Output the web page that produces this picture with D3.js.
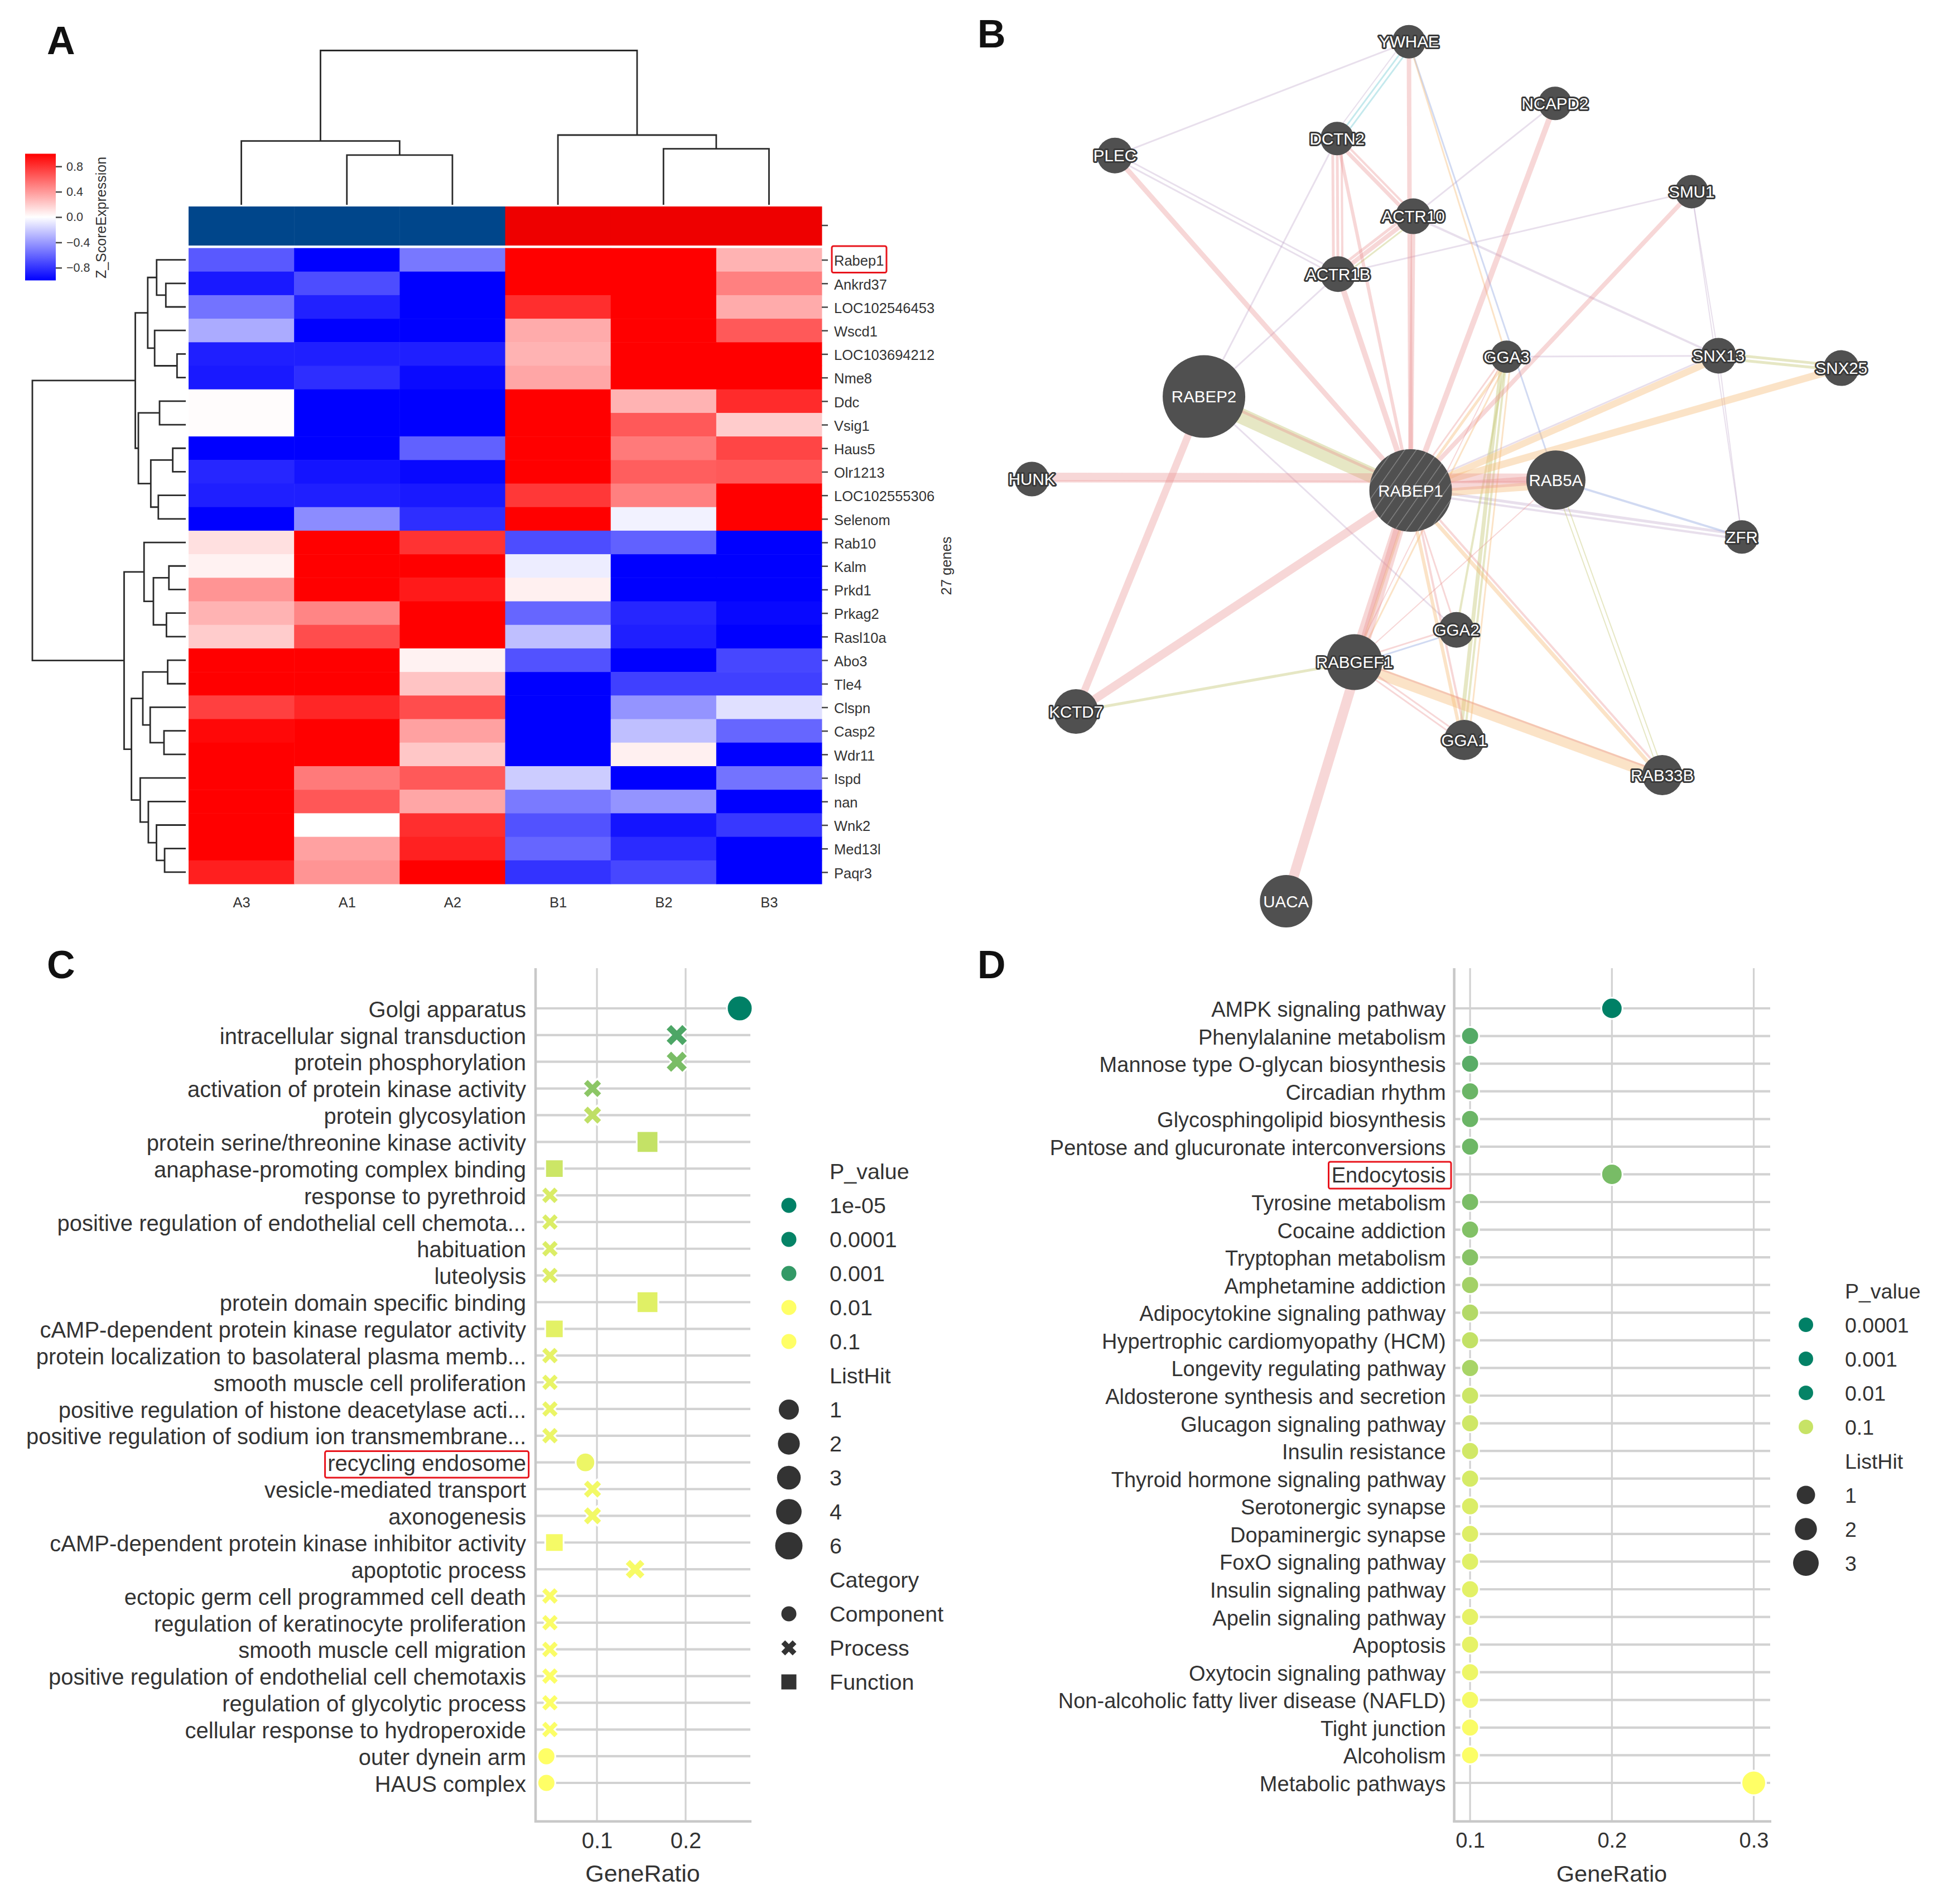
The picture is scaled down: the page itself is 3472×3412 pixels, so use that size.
<!DOCTYPE html>
<html><head><meta charset="utf-8">
<script src="https://cdnjs.cloudflare.com/ajax/libs/d3/7.8.5/d3.min.js"></script>
<style>html,body{margin:0;padding:0;background:#fff}svg{display:block}text{font-family:"Liberation Sans",Arial,sans-serif}</style>
</head><body><svg id="c" width="3472" height="3412" viewBox="0 0 3472 3412"></svg>
<script>
// ---------- Panel A data ----------
const sampleNames = ["A3","A1","A2","B1","B2","B3"];
const sampleGroupColors = ["#00468b","#00468b","#00468b","#ee0000","#ee0000","#ee0000"];
const geneNames = ["Rabep1","Ankrd37","LOC102546453","Wscd1","LOC103694212","Nme8","Ddc","Vsig1","Haus5","Olr1213","LOC102555306","Selenom","Rab10","Kalm","Prkd1","Prkag2","Rasl10a","Abo3","Tle4","Clspn","Casp2","Wdr11","Ispd","nan","Wnk2","Med13l","Paqr3"];
const zScores = [
[-.65,-1,-.53,1,1,.3],[-.9,-.7,-1,1,1,.5],[-.55,-.87,-1,.82,1,.33],[-.33,-1,-1,.33,1,.65],
[-.88,-.88,-.88,.3,1,1],[-.9,-.82,-.96,.35,1,1],[.01,-1,-1,1,.3,.83],[.01,-1,-1,1,.65,.2],
[-1,-1,-.62,1,.52,.73],[-.85,-.92,-.97,1,.63,.65],[-.88,-.88,-.9,.78,.5,1],[-1,-.45,-.82,1,-.05,1],
[.12,1,.8,-.7,-.62,-1],[.05,1,1,-.07,-1,-1],[.42,1,.9,.06,-1,-1],[.3,.48,1,-.6,-.85,-.97],
[.2,.7,1,-.25,-.88,-1],[1,1,.05,-.68,-1,-.72],[1,1,.23,-1,-.75,-.75],[.75,.85,.7,-1,-.42,-.12],
[.97,1,.37,-1,-.25,-.6],[1,1,.22,-1,.06,-1],[1,.52,.65,-.2,-1,-.55],[1,.66,.35,-.52,-.42,-1],
[1,0,.82,-.68,-.92,-.78],[1,.37,.87,-.6,-.83,-1],[.88,.42,1,-.8,-.72,-1]];
const colorbarTicks = [-.8,-.4,0,.4,.8];
// dendrograms: [distance, left, right]; a number is a leaf index
const colTree = [1,[.414,0,[.322,1,2]],[.452,3,[.363,4,5]]];
const rowTree = [1,
 [.329,
  [.248,[.19,0,[.13,1,2]],[.203,3,[.057,4,5]]],
  [.309,[.171,6,7],[.228,[.085,8,9],[.179,10,11]]]],
 [.402,
  [.272,12,[.211,[.11,13,14],[.126,15,16]]],
  [.354,
   [.28,[.118,17,18],[.232,19,[.142,20,21]]],
   [.297,22,[.244,23,[.191,24,[.138,25,26]]]]]]];

// ---------- Panel B data ----------
const netNodes = ["YWHAE","NCAPD2","PLEC","DCTN2","ACTR10","SMU1","ACTR1B","GGA3","SNX13","SNX25","RABEP2","HUNK","RABEP1","RAB5A","ZFR","GGA2","RABGEF1","KCTD7","GGA1","RAB33B","UACA"];
const netLayoutX = [468,637,128,385,473,795,386,581,826,968,231,32,470,638,853,523,405,83,532,761,326];
const netLayoutY = [44,109,164,146,228,202,289,376,375,388,418,505,517,506,566,664,698,750,780,817,950];
const netScore = [30,30,32,30,32,30,32,29,32,32,74,31,74,53,30,32,50,40,36,36,47];
const edgesPhysical = [["PLEC","RABEP1",9],["DCTN2","RABEP1",6],["ACTR1B","RABEP1",10],["ACTR10","RABEP1",8],["YWHAE","RABEP1",8],["NCAPD2","RABEP1",10],["SMU1","RABEP1",8],["DCTN2","ACTR1B",5],["DCTN2","ACTR1B",5],["DCTN2","ACTR1B",4],["DCTN2","ACTR10",7],["DCTN2","ACTR10",4],["ACTR10","ACTR1B",8],["ACTR10","ACTR1B",5],["RABEP2","KCTD7",13],["RABEP2","RABEP1",5],["HUNK","RAB5A",15],["HUNK","RAB5A",4],["KCTD7","RABEP1",15],["UACA","RABEP1",18],["RABGEF1","RABEP1",14],["RABEP1","RAB5A",12],["RABEP1","RAB5A",4],["RABEP1","GGA1",4],["RABEP1","GGA2",3],["RABEP1","RAB33B",4],["RABGEF1","GGA2",3],["RABGEF1","GGA1",3],["RABGEF1","GGA1",3],["RABGEF1","RAB33B",3],["RAB5A","RABGEF1",2],["GGA3","RABGEF1",2],["GGA3","RABEP1",3]];
const edgesPredicted = [["SNX13","RABEP1",12],["SNX25","RABEP1",13],["RABGEF1","RAB33B",20],["RABEP1","RAB33B",7],["RABEP1","RABGEF1",5],["RABEP1","GGA3",5],["RABEP1","GGA1",6],["YWHAE","GGA3",3],["RABGEF1","GGA3",3],["RABEP1","RAB5A",14],["GGA3","GGA1",3]];
const edgesColocal = [["YWHAE","RAB5A",3],["RAB5A","ZFR",4],["RABGEF1","GGA2",3]];
const edgesPathway = [["YWHAE","DCTN2",3],["YWHAE","DCTN2",3]];
const edgesGenetic = [["RABEP2","RABEP1",28],["KCTD7","RABGEF1",5],["SNX13","SNX25",5],["SNX13","SNX25",5],["GGA3","GGA1",7],["GGA3","GGA1",4],["GGA3","GGA2",4],["RAB5A","RAB33B",2],["RAB5A","RAB33B",2],["ACTR10","ACTR1B",3]];
const edgesCoexpr = [["YWHAE","PLEC",3],["PLEC","ACTR1B",3],["PLEC","ACTR1B",3],["DCTN2","RABEP2",3],["ACTR1B","RABEP2",3],["ACTR10","SNX13",4],["ACTR1B","SMU1",3],["NCAPD2","ACTR10",3],["SMU1","SNX13",2],["SMU1","ZFR",2],["SNX13","ZFR",2],["GGA3","SNX13",3],["RABEP1","ZFR",5],["RABEP1","ZFR",4],["SNX13","RABEP1",3],["RABEP2","GGA2",3],["YWHAE","DCTN2",2]];

// ---------- Panel C data ----------
const termsC = ["Golgi apparatus","intracellular signal transduction","protein phosphorylation","activation of protein kinase activity","protein glycosylation","protein serine/threonine kinase activity","anaphase-promoting complex binding","response to pyrethroid","positive regulation of endothelial cell chemota...","habituation","luteolysis","protein domain specific binding","cAMP-dependent protein kinase regulator activity","protein localization to basolateral plasma memb...","smooth muscle cell proliferation","positive regulation of histone deacetylase acti...","positive regulation of sodium ion transmembrane...","recycling endosome","vesicle-mediated transport","axonogenesis","cAMP-dependent protein kinase inhibitor activity","apoptotic process","ectopic germ cell programmed cell death","regulation of keratinocyte proliferation","smooth muscle cell migration","positive regulation of endothelial cell chemotaxis","regulation of glycolytic process","cellular response to hydroperoxide","outer dynein arm","HAUS complex"];
const ratioC = [.261,.19,.19,.095,.095,.157,.052,.047,.047,.047,.047,.157,.052,.047,.047,.047,.047,.087,.095,.095,.052,.143,.047,.047,.047,.047,.047,.047,.043,.043];
const hitsC = [6,4,4,2,2,3,1,1,1,1,1,3,1,1,1,1,1,2,2,2,1,3,1,1,1,1,1,1,1,1];
const categoryC = ["C","P","P","P","P","F","F","P","P","P","P","F","F","P","P","P","P","C","P","P","F","P","P","P","P","P","P","P","C","C"];
const pShadeC = [0,.3,.48,.55,.75,.77,.8,.85,.86,.86,.87,.88,.89,.9,.91,.92,.92,.93,.95,.95,.96,.97,.98,.98,.98,.99,.99,.99,1,1];
const ticksC = [.1,.2];
const legendPC = [["1e-05",0],["0.0001",.02],["0.001",.2],["0.01",1],["0.1",1]];
const legendHitsC = ["1","2","3","4","6"];
const legendCats = [["Component","C"],["Process","P"],["Function","F"]];

// ---------- Panel D data ----------
const termsD = ["AMPK signaling pathway","Phenylalanine metabolism","Mannose type O-glycan biosynthesis","Circadian rhythm","Glycosphingolipid biosynthesis","Pentose and glucuronate interconversions","Endocytosis","Tyrosine metabolism","Cocaine addiction","Tryptophan metabolism","Amphetamine addiction","Adipocytokine signaling pathway","Hypertrophic cardiomyopathy (HCM)","Longevity regulating pathway","Aldosterone synthesis and secretion","Glucagon signaling pathway","Insulin resistance","Thyroid hormone signaling pathway","Serotonergic synapse","Dopaminergic synapse","FoxO signaling pathway","Insulin signaling pathway","Apelin signaling pathway","Apoptosis","Oxytocin signaling pathway","Non-alcoholic fatty liver disease (NAFLD)","Tight junction","Alcoholism","Metabolic pathways"];
const ratioD = [.2,.1,.1,.1,.1,.1,.2,.1,.1,.1,.1,.1,.1,.1,.1,.1,.1,.1,.1,.1,.1,.1,.1,.1,.1,.1,.1,.1,.3];
const hitsD = [2,1,1,1,1,1,2,1,1,1,1,1,1,1,1,1,1,1,1,1,1,1,1,1,1,1,1,1,3];
const pShadeD = [0,.33,.35,.42,.42,.43,.47,.48,.51,.53,.64,.7,.76,.66,.8,.81,.82,.84,.86,.87,.88,.89,.9,.9,.93,.96,.98,.99,1];
const ticksD = [.1,.2,.3];
const legendPD = [["0.0001",0],["0.001",.01],["0.01",.02],["0.1",.78]];
const legendHitsD = ["1","2","3"];

// ---------- Common ----------
const svg = d3.select("#c");
svg.append("rect").attr("width",3472).attr("height",3412).attr("fill","#fff");
const TXT = "#333";
const panelLetter = (t,x,y) => svg.append("text").attr("x",x).attr("y",y).text(t).attr("font-size",70).attr("font-weight","bold").attr("fill","#111");
panelLetter("A",84,97); panelLetter("B",1752,85); panelLetter("C",84,1753); panelLetter("D",1752,1753);
const redBox = (x,y,w,h) => svg.append("rect").attr("x",x).attr("y",y).attr("width",w).attr("height",h).attr("rx",3).attr("fill","none").attr("stroke","#e8141c").attr("stroke-width",3);

// ---------- Panel A ----------
const A = svg.append("g");
const hx = d3.scaleBand().domain(d3.range(sampleNames.length)).range([338,1473]);
const hy = d3.scaleBand().domain(d3.range(geneNames.length)).range([444.5,1584]);
const bwr = d3.scaleLinear().domain([-1,0,1]).range(["#0000ff","#ffffff","#ff0000"]);
A.selectAll("rect.g").data(sampleNames).join("rect").attr("class","g")
 .attr("x",(d,i)=>hx(i)).attr("y",370).attr("width",hx.bandwidth()+.5).attr("height",70).attr("fill",(d,i)=>sampleGroupColors[i]);
zScores.forEach((row,r)=>{
  A.selectAll("rect.c"+r).data(row).join("rect").attr("class","c"+r)
   .attr("x",(d,i)=>hx(i)).attr("y",hy(r)).attr("width",hx.bandwidth()+.5).attr("height",hy.bandwidth()+.5).attr("fill",d=>bwr(d));
});
const styleAxis = (g,fs)=>{g.select(".domain").remove();g.selectAll("text").attr("font-size",fs).attr("fill",TXT).attr("font-family",'"Liberation Sans",Arial,sans-serif');g.selectAll("line").attr("stroke","#444").attr("stroke-width",2.5);};
const rowAxis = d3.axisRight(d3.scalePoint().domain(geneNames).range([hy(0)+hy.bandwidth()/2,hy(26)+hy.bandwidth()/2])).tickSize(11).tickPadding(11);
A.append("g").attr("transform","translate(1473,0)").call(rowAxis).call(g=>{styleAxis(g,25.5);g.selectAll("text").attr("dy",".4em");});
A.append("line").attr("x1",1473).attr("x2",1484).attr("y1",404).attr("y2",404).attr("stroke","#444").attr("stroke-width",2.5);
const colAxis = d3.axisBottom(d3.scalePoint().domain(sampleNames).range([hx(0)+hx.bandwidth()/2,hx(5)+hx.bandwidth()/2])).tickSize(0).tickPadding(24);
A.append("g").attr("transform","translate(0,1584)").call(colAxis).call(g=>styleAxis(g,25.5));
A.append("text").attr("transform","translate(1705,1014) rotate(-90)").attr("text-anchor","middle").attr("font-size",25.5).attr("fill",TXT).text(geneNames.length+" genes");
redBox(1491,441,98,47.5);
// dendrograms
function dendro(tree, leafPos, distScale, horizontal){
  const segs=[];
  const walk=n=>{
    if(typeof n==="number") return {p:leafPos(n),d:0};
    const a=walk(n[1]),b=walk(n[2]);
    segs.push([[a.p,a.d],[a.p,n[0]],[b.p,n[0]],[b.p,b.d]]);
    return {p:(a.p+b.p)/2,d:n[0]};
  };
  walk(tree);
  const line=d3.line().x(q=>horizontal?distScale(q[1]):q[0]).y(q=>horizontal?q[0]:distScale(q[1]));
  A.append("g").selectAll("path").data(segs).join("path").attr("d",line).attr("fill","none").attr("stroke","#2a2a2a").attr("stroke-width",2.8);
}
dendro(colTree,i=>hx(i)+hx.bandwidth()/2,d3.scaleLinear([0,1],[367,90.5]),false);
dendro(rowTree,i=>hy(i)+hy.bandwidth()/2,d3.scaleLinear([0,1],[333,58]),true);
// colorbar
const cbY = d3.scaleLinear([-1,1],[502.5,275.5]);
const defs = svg.append("defs");
const grad = defs.append("linearGradient").attr("id","cbg").attr("x1",0).attr("x2",0).attr("y1",1).attr("y2",0);
[-1,-.5,0,.5,1].forEach(v=>grad.append("stop").attr("offset",(v+1)/2).attr("stop-color",bwr(v)));
A.append("rect").attr("x",45).attr("y",275.5).attr("width",55).attr("height",227).attr("fill","url(#cbg)");
A.append("g").attr("transform","translate(100,0)").call(d3.axisRight(cbY).tickValues(colorbarTicks).tickSize(11).tickPadding(8).tickFormat(d3.format(".1f"))).call(g=>styleAxis(g,21.5));
A.append("text").attr("transform","translate(190,390) rotate(-90)").attr("text-anchor","middle").attr("font-size",25).attr("fill",TXT).text("Z_ScoreExpression");

// ---------- Panel B ----------
const B = svg.append("g");
const nx = d3.scaleLinear([0,1000],[1800,3350]), ny = d3.scaleLinear([0,1000],[0,1700]);
const pos = Object.fromEntries(netNodes.map((n,i)=>[n,{x:nx(netLayoutX[i]),y:ny(netLayoutY[i]),r:netScore[i]}]));
const kinds = [[edgesCoexpr,"#b79cc5",.32],[edgesGenetic,"#c5c878",.44],[edgesPathway,"#7ccfd8",.45],[edgesColocal,"#92a8e0",.42],[edgesPredicted,"#f5bd7a",.42],[edgesPhysical,"#e88f8f",.36]];
const allEdges = kinds.flatMap(([list,color,op])=>list.map(e=>({s:e[0],t:e[1],w:e[2],color,op})));
const pairSeen = d3.rollup(allEdges,v=>v.length,e=>[e.s,e.t].sort().join("|"));
const pairIdx = new Map();
const edgeWidth = d3.scaleLinear([0,28],[0,28]);
B.append("g").selectAll("line").data(allEdges).join("line").each(function(e){
  const key=[e.s,e.t].sort().join("|"),n=pairSeen.get(key),i=pairIdx.get(key)||0;pairIdx.set(key,i+1);
  const a=pos[e.s],b=pos[e.t],dx=b.x-a.x,dy=b.y-a.y,L=Math.hypot(dx,dy);
  const flip=e.s<e.t?1:-1;
  const off=(i-(n-1)/2)*(n>3?7:8)*flip;
  d3.select(this).attr("x1",a.x-dy/L*off).attr("y1",a.y+dx/L*off).attr("x2",b.x-dy/L*off).attr("y2",b.y+dx/L*off);
}).attr("stroke",e=>e.color).attr("stroke-opacity",e=>e.op).attr("stroke-width",e=>edgeWidth(e.w));
const pat = defs.append("pattern").attr("id","hatch").attr("patternUnits","userSpaceOnUse").attr("width",17).attr("height",17).attr("patternTransform","rotate(35)");
pat.append("rect").attr("width",17).attr("height",17).attr("fill","#505050");
pat.append("line").attr("x1",0).attr("x2",0).attr("y1",0).attr("y2",17).attr("stroke","#8c8c8c").attr("stroke-width",2.5);
const ng = B.selectAll("g.n").data(netNodes).join("g").attr("class","n").attr("transform",d=>`translate(${pos[d].x},${pos[d].y})`);
ng.append("circle").attr("r",d=>pos[d].r).attr("fill",d=>d==="RABEP1"?"url(#hatch)":"#505050");
const bigNodes = new Set(["RABEP1","RABEP2","RAB5A","UACA"]);
ng.append("text").attr("text-anchor","middle").attr("dy",".36em").attr("font-size",29.5).attr("fill","#fff").text(d=>d)
  .attr("stroke",d=>bigNodes.has(d)?"none":"#3a3a3a").attr("stroke-width",6).attr("stroke-linejoin","round").attr("paint-order","stroke");

// ---------- Panels C, D ----------
const shade = d3.scaleLinear([0,1],["#008066","#ffff66"]);
const markerPath = (cat,dia)=>{
  if(cat==="C") return d3.symbol(d3.symbolCircle,Math.PI*dia*dia/4)();
  if(cat==="F") return d3.symbol(d3.symbolSquare,dia*dia)();
  const s=dia/.943; return d3.symbol(d3.symbolCross,5*s*s/9)();
};
const markerRot = cat=>cat==="P"?" rotate(45)":"";
function dotPanel(o){
  const g=svg.append("g");
  const x=d3.scaleLinear().domain(o.domain).range(o.xr);
  const y=d3.scalePoint().domain(o.terms).range([1807,3195]);
  const top=1735,bot=3264,GRID="#d2d2d2";
  const fix=a=>{a.select(".domain").remove();a.selectAll("line").remove();a.selectAll("text").attr("font-size",o.fs).attr("fill",TXT).attr("font-family",'"Liberation Sans",Arial,sans-serif');};
  g.selectAll("line.v").data(o.ticks).join("line").attr("class","v").attr("x1",d=>x(d)).attr("x2",d=>x(d)).attr("y1",top).attr("y2",bot).attr("stroke",GRID).attr("stroke-width",3.2);
  g.selectAll("line.h").data(o.terms).join("line").attr("class","h").attr("x1",o.xr[0]).attr("x2",o.xr[1]).attr("y1",d=>y(d)).attr("y2",d=>y(d)).attr("stroke",GRID).attr("stroke-width",4.2);
  g.append("line").attr("x1",o.xr[0]).attr("x2",o.xr[0]).attr("y1",top).attr("y2",bot+2).attr("stroke","#c8c8c8").attr("stroke-width",4.5);
  g.append("line").attr("x1",o.xr[0]-2).attr("x2",o.xr[1]+2).attr("y1",bot).attr("y2",bot).attr("stroke","#c8c8c8").attr("stroke-width",4.5);
  g.append("g").attr("transform",`translate(${o.xr[0]},0)`).call(d3.axisLeft(y).tickSize(0).tickPadding(o.labelPad)).call(fix).call(a=>a.selectAll("text").attr("dy",".38em"));
  g.append("g").attr("transform",`translate(0,${bot})`).call(d3.axisBottom(x).tickValues(o.ticks).tickSize(0).tickPadding(20).tickFormat(d3.format(".1f"))).call(fix);
  g.append("text").attr("x",o.titleX).attr("y",3372).attr("text-anchor","middle").attr("font-size",o.titleFs).attr("fill",TXT).text("GeneRatio");
  g.selectAll("path.m").data(o.terms).join("path").attr("class","m")
   .attr("transform",(d,i)=>`translate(${x(o.ratio[i])},${y(d)})${markerRot(o.cat[i])}`)
   .attr("d",(d,i)=>markerPath(o.cat[i],(o.dia(o.hits[i])*(o.cat[i]==="F"?1.03:1))+3))
   .attr("fill",(d,i)=>shade(o.shade[i])).attr("stroke","#fff").attr("stroke-width",3);
}
dotPanel({terms:termsC,ratio:ratioC,hits:hitsC,cat:categoryC,shade:pShadeC,ticks:ticksC,domain:[.0308,.273],xr:[960,1345],dia:d3.scaleLinear([1,6],[29,43]),labelPad:17,fs:40,titleFs:43,titleX:1152});
dotPanel({terms:termsD,ratio:ratioD,hits:hitsD,cat:termsD.map(()=>"C"),shade:pShadeD,ticks:ticksD,domain:[.0888,.3116],xr:[2606.6,3173],dia:d3.scaleLinear([1,3],[29,41]),labelPad:15,fs:38,titleFs:41.5,titleX:2889});
redBox(582.6,2600.6,365,47.5);
redBox(2381.5,2082,219.5,48);

// ---------- Legends ----------
const DARK="#333";
function legend(o){
  const g=svg.append("g");
  const y=d3.scalePoint().domain(d3.range(o.rows.length)).range(o.yr);
  o.rows.forEach((r,i)=>{
    const yy=y(i);
    if(r.title){g.append("text").attr("x",o.tx).attr("y",yy).attr("dy",".36em").attr("font-size",o.fs).attr("fill",TXT).text(r.title);return;}
    g.append("path").attr("transform",`translate(${o.mx},${yy})${markerRot(r.cat)}`).attr("d",markerPath(r.cat,r.dia)).attr("fill",r.fill);
    g.append("text").attr("x",o.tx).attr("y",yy).attr("dy",".36em").attr("font-size",o.fs).attr("fill",TXT).text(r.label);
  });
}
const hitDiaC=d3.scalePoint().domain(legendHitsC).range([36,49]);
legend({mx:1414,tx:1487,fs:39.5,yr:[2099,3014],rows:[
 {title:"P_value"},
 ...legendPC.map(d=>({label:d[0],cat:"C",dia:27,fill:shade(d[1])})),
 {title:"ListHit"},
 ...legendHitsC.map(h=>({label:h,cat:"C",dia:hitDiaC(h),fill:DARK})),
 {title:"Category"},
 ...legendCats.map(d=>({label:d[0],cat:d[1],dia:27,fill:DARK}))]});
const hitDiaD=d3.scalePoint().domain(legendHitsD).range([33,46]);
legend({mx:3237,tx:3307,fs:37.5,yr:[2313,2801],rows:[
 {title:"P_value"},
 ...legendPD.map(d=>({label:d[0],cat:"C",dia:26,fill:shade(d[1])})),
 {title:"ListHit"},
 ...legendHitsD.map(h=>({label:h,cat:"C",dia:hitDiaD(h),fill:DARK}))]});
</script></body></html>
